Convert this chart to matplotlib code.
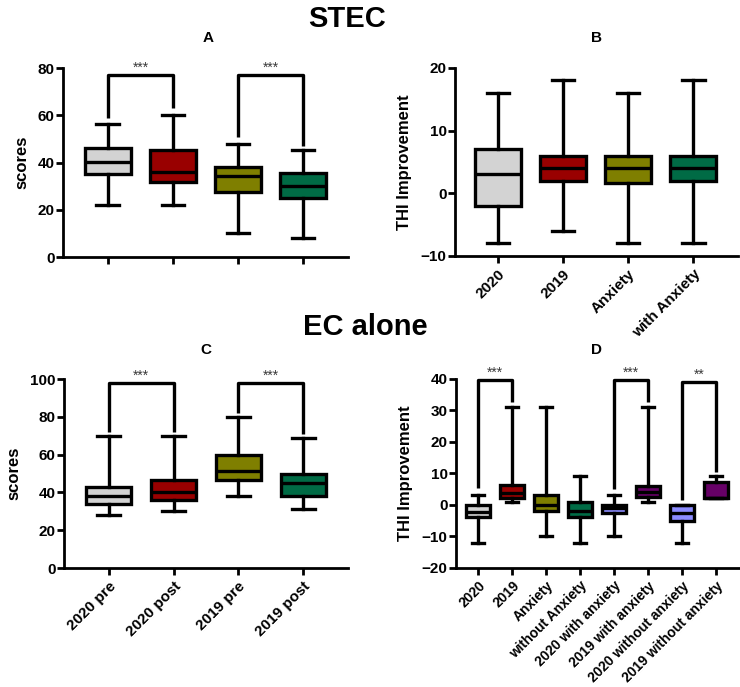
import matplotlib
matplotlib.use("Agg")
import matplotlib.pyplot as plt

plt.rcParams['font.family'] = ['Liberation Sans', 'DejaVu Sans']
plt.rcParams['font.weight'] = 'bold'

# ---------------- data ----------------
C_GRAY = '#D3D3D3'
C_RED = '#990000'
C_OLIVE = '#7F7F00'
C_GREEN = '#006B45'
C_LAV = '#8C8CFF'
C_PURP = '#660066'

# Panel A (STEC scores)
a_labels = ['', '', '', '']
a_whislo = [22, 22, 10, 8]
a_q1 = [35, 31.6, 27.4, 25]
a_med = [40.3, 35.8, 34.3, 30.2]
a_q3 = [46.3, 45.3, 38.2, 35.4]
a_whishi = [56.2, 60, 48, 45.3]
a_colors = [C_GRAY, C_RED, C_OLIVE, C_GREEN]
a_br_pairs = [(1, 2), (3, 4)]
a_br_top = [77, 77]
a_br_left = [58.7, 50.9]
a_br_right = [62.9, 47]
a_br_text = ['***', '***']

# Panel B (STEC THI improvement)
b_labels = ['2020', '2019', 'Anxiety', 'with Anxiety']
b_whislo = [-8, -6, -8, -8]
b_q1 = [-2, 2, 1.6, 2]
b_med = [3, 4, 4, 4]
b_q3 = [7, 6, 6, 6]
b_whishi = [16, 18, 16, 18]
b_colors = [C_GRAY, C_RED, C_OLIVE, C_GREEN]

# Panel C (EC alone scores)
c_labels = ['2020 pre', '2020 post', '2019 pre', '2019 post']
c_whislo = [28, 30.2, 38.1, 31.2]
c_q1 = [33.7, 36, 46.6, 38.1]
c_med = [38.1, 40, 51.3, 44.8]
c_q3 = [42.7, 46.6, 59.6, 49.6]
c_whishi = [70, 70, 80, 68.9]
c_colors = [C_GRAY, C_RED, C_OLIVE, C_GREEN]
c_br_pairs = [(1, 2), (3, 4)]
c_br_top = [98, 98]
c_br_left = [72, 82]
c_br_right = [72, 71]
c_br_text = ['***', '***']

# Panel D (EC alone THI improvement)
d_labels = ['2020', '2019', 'Anxiety', 'without Anxiety', '2020 with anxiety',
            '2019 with anxiety', '2020 without anxiety', '2019 without anxiety']
d_whislo = [-12, 1, -10, -12, -10, 1, -12, 2]
d_q1 = [-4, 2, -2, -4, -2.6, 2.3, -5.2, 2]
d_med = [-2.2, 3.8, 0, -2, -1, 4, -2.8, 2]
d_q3 = [0, 6.1, 3, 0.9, 0, 6, 0, 7.3]
d_whishi = [3, 31, 31, 9, 3, 31, 0, 9]
d_colors = [C_GRAY, C_RED, C_OLIVE, C_GREEN, C_LAV, C_PURP, C_LAV, C_PURP]
d_br_pairs = [(1, 2), (5, 6), (7, 8)]
d_br_top = [39.5, 39.5, 39]
d_br_left = [5.3, 5, 1.5]
d_br_right = [32.7, 32.7, 10.5]
d_br_text = ['***', '***', '**']

LW = 2.4
FS = 11


def draw_panel(ax, labels, whislo, q1, med, q3, whishi, colors, ylim, yticks,
               xlim, ylabel=None, brackets=None, xfs=FS):
    stats = []
    for i in range(len(labels)):
        stats.append(dict(whislo=whislo[i], q1=q1[i], med=med[i], q3=q3[i],
                          whishi=whishi[i], fliers=[], label=labels[i]))
    pos = list(range(1, len(labels) + 1))
    bp = ax.bxp(stats, positions=pos, widths=0.7, patch_artist=True,
                showfliers=False,
                boxprops=dict(linewidth=LW, edgecolor='black'),
                medianprops=dict(linewidth=LW, color='black'),
                whiskerprops=dict(linewidth=LW, color='black'),
                capprops=dict(linewidth=LW, color='black'),
                capwidths=0.35)
    for patch, c in zip(bp['boxes'], colors):
        patch.set_facecolor(c)
    ax.set_xlim(*xlim)
    ax.set_ylim(*ylim)
    ax.set_yticks(yticks)
    ax.set_xticks(pos)
    ax.set_xticklabels(labels, rotation=45, ha='right', rotation_mode='anchor',
                       fontsize=xfs, fontweight='bold')
    for t in ax.get_yticklabels():
        t.set_fontsize(FS)
        t.set_fontweight('bold')
    ax.spines['top'].set_visible(False)
    ax.spines['right'].set_visible(False)
    ax.spines['left'].set_linewidth(2)
    ax.spines['bottom'].set_linewidth(2)
    ax.tick_params(axis='y', width=2, length=5, direction='out', pad=1)
    ax.tick_params(axis='x', width=2, length=5, direction='out', pad=3)
    if ylabel:
        ax.set_ylabel(ylabel, fontsize=FS + 1, fontweight='bold', labelpad=6)
    if brackets:
        pairs, tops, lefts, rights, texts = brackets
        for (x1, x2), top, yl, yr, txt in zip(pairs, tops, lefts, rights, texts):
            ax.plot([x1, x1, x2, x2], [yl, top, top, yr], color='black',
                    linewidth=LW, clip_on=False, solid_capstyle='butt')
            ax.annotate(txt, xy=((x1 + x2) / 2, top), xytext=(0, 0),
                        textcoords='offset points', ha='center', va='bottom',
                        fontsize=10, fontweight='normal', color='#3a3a3a',
                        annotation_clip=False)


fig = plt.figure(figsize=(7.4, 6.87), dpi=100)

axA = fig.add_axes([0.0851, 0.6259, 0.3851, 0.2751])
draw_panel(axA, a_labels, a_whislo, a_q1, a_med, a_q3, a_whishi, a_colors,
           (0, 80), [0, 20, 40, 60, 80], (0.31, 4.69), 'scores',
           (a_br_pairs, a_br_top, a_br_left, a_br_right, a_br_text))

axB = fig.add_axes([0.6149, 0.6274, 0.3824, 0.2737])
draw_panel(axB, b_labels, b_whislo, b_q1, b_med, b_q3, b_whishi, b_colors,
           (-10, 20), [-10, 0, 10, 20], (0.34, 4.69), 'THI Improvement')

axC = fig.add_axes([0.0865, 0.1732, 0.3838, 0.2751])
draw_panel(axC, c_labels, c_whislo, c_q1, c_med, c_q3, c_whishi, c_colors,
           (0, 100), [0, 20, 40, 60, 80, 100], (0.31, 4.69), 'scores',
           (c_br_pairs, c_br_top, c_br_left, c_br_right, c_br_text))

axD = fig.add_axes([0.6162, 0.1736, 0.3838, 0.2754])
draw_panel(axD, d_labels, d_whislo, d_q1, d_med, d_q3, d_whishi, d_colors,
           (-20, 40), [-20, -10, 0, 10, 20, 30, 40], (0.35, 8.7), 'THI Improvement',
           (d_br_pairs, d_br_top, d_br_left, d_br_right, d_br_text), xfs=10)

fig.text(347 / 740, 1 - 19 / 687, 'STEC', ha='center', va='center',
         fontsize=21, fontweight='bold')
fig.text(365 / 740, 1 - 327 / 687, 'EC alone', ha='center', va='center',
         fontsize=21, fontweight='bold')
for lbl, x, y in [('A', 208, 38), ('B', 597, 38), ('C', 206, 350), ('D', 597, 350)]:
    fig.text(x / 740, 1 - y / 687, lbl, ha='center', va='center',
             fontsize=FS, fontweight='bold')

fig.savefig('out.png', dpi=100, facecolor='white')
